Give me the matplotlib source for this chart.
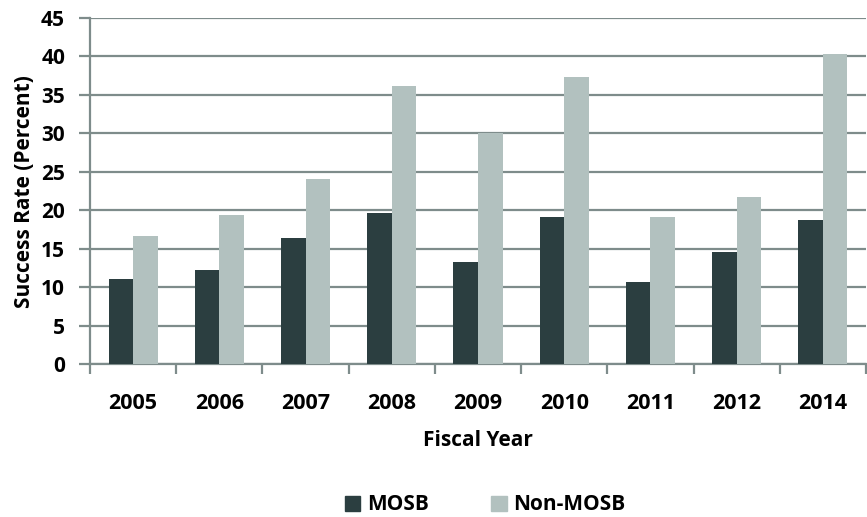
import matplotlib
matplotlib.use("Agg")
import matplotlib.pyplot as plt
import numpy as np
from matplotlib.patches import Patch

years = ["2005", "2006", "2007", "2008", "2009", "2010", "2011", "2012", "2014"]
mosb = [11.1, 12.2, 16.4, 19.7, 13.3, 19.1, 10.7, 14.6, 18.8]
non_mosb = [16.7, 19.4, 24.1, 36.1, 30.1, 37.3, 19.1, 21.7, 40.3]
yticks = [0, 5, 10, 15, 20, 25, 30, 35, 40, 45]

dark = "#2b3e40"
light = "#b2c1bf"
grid = "#7e8c8b"

plt.rcParams["font.family"] = ["Open Sans", "DejaVu Sans"]

fig = plt.figure(figsize=(8.67, 5.17), dpi=100)
ax = fig.add_axes([90 / 867, 1 - 364.3 / 517, 776 / 867, (364.3 - 18) / 517])

x = np.arange(len(years))
w = 0.285
ax.bar(x - w / 2, mosb, w, color=dark, zorder=3)
ax.bar(x + w / 2, non_mosb, w, color=light, zorder=3)

ax.set_xlim(-0.5, len(years) - 0.5)
ax.set_ylim(0, 45)
ax.set_yticks(yticks)
ax.set_yticklabels([str(t) for t in yticks], fontsize=15, fontweight="bold")
ax.yaxis.grid(True, color=grid, linewidth=1.6, zorder=0)
ax.tick_params(axis="y", length=8, width=1.6, color=grid, pad=10)

ax.set_xticks(x)
ax.set_xticklabels(years, fontsize=15.5, fontweight="bold")
ax.set_xticks(np.arange(len(years) + 1) - 0.5, minor=True)
ax.tick_params(axis="x", which="major", length=0, pad=21)
ax.tick_params(axis="x", which="minor", length=7, width=1.6, color=grid)

for s in ["top", "right"]:
    ax.spines[s].set_visible(False)
for s in ["left", "bottom"]:
    ax.spines[s].set_color(grid)
    ax.spines[s].set_linewidth(1.6)

ax.set_ylabel("Success Rate (Percent)", fontsize=15, fontweight="bold", labelpad=4)
ax.set_xlabel("Fiscal Year", fontsize=15, fontweight="bold", labelpad=11)

handles = [Patch(color=dark, label="MOSB"), Patch(color=light, label="Non-MOSB")]
fig.legend(handles=handles, loc="center", bbox_to_anchor=(485 / 867, 1 - 505 / 517),
           ncol=2, frameon=False, prop={"size": 15, "weight": "bold"},
           handlelength=0.75, handleheight=0.75, columnspacing=3.0, handletextpad=0.3)

fig.savefig("out.png", dpi=100)
